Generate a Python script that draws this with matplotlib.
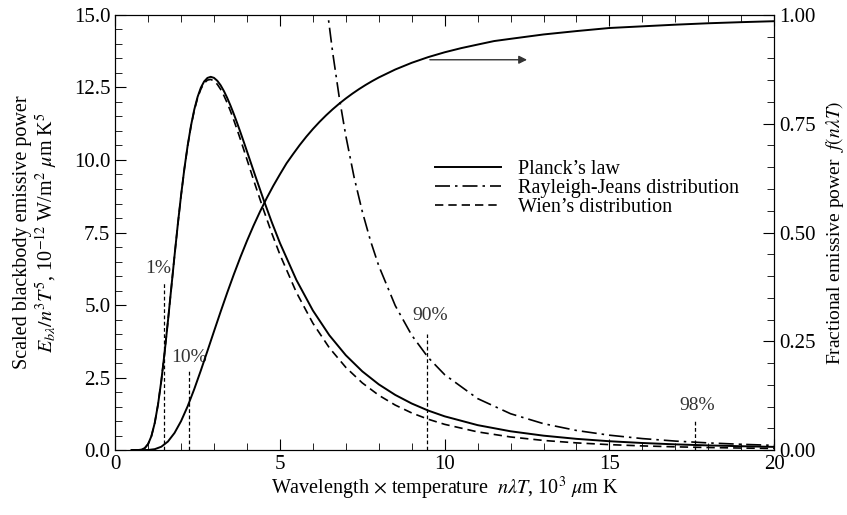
import numpy as np
import matplotlib
matplotlib.use('Agg')
import matplotlib.pyplot as plt
from matplotlib.ticker import MultipleLocator

plt.rcParams['font.family'] = ['Liberation Serif', 'DejaVu Serif']
plt.rcParams['mathtext.fontset'] = 'stix'

# wavelength x temperature, 10^3 um K
x_dist = [0.5, 0.6, 0.7, 0.8, 0.9, 1.0, 1.1, 1.2, 1.3, 1.4, 1.5, 1.6, 1.7, 1.8,
          1.9, 2.0, 2.1, 2.2, 2.3, 2.4, 2.5, 2.6, 2.7, 2.8, 2.9, 3.0, 3.1, 3.2,
          3.3, 3.4, 3.5, 3.6, 3.7, 3.8, 3.9, 4.0, 4.25, 4.5, 4.75, 5.0, 5.5, 6.0,
          6.5, 7.0, 7.5, 8.0, 8.5, 9.0, 9.5, 10, 11, 12, 13, 14, 15, 16, 17, 18,
          19, 20]
planck = [0.0, 0.0002, 0.0026, 0.0177, 0.0722, 0.211, 0.485, 0.933, 1.573, 2.395,
          3.365, 4.438, 5.563, 6.690, 7.777, 8.790, 9.704, 10.503, 11.181, 11.737,
          12.171, 12.493, 12.708, 12.829, 12.867, 12.830, 12.730, 12.576, 12.376,
          12.140, 11.874, 11.585, 11.279, 10.959, 10.631, 10.297, 9.459, 8.642,
          7.864, 7.139, 5.863, 4.812, 3.958, 3.269, 2.714, 2.266, 1.902, 1.606,
          1.363, 1.164, 0.861, 0.649, 0.498, 0.388, 0.306, 0.245, 0.198, 0.162,
          0.134, 0.111]
wien = [0.0, 0.0002, 0.0026, 0.0177, 0.0722, 0.211, 0.485, 0.933, 1.573, 2.395,
        3.364, 4.437, 5.561, 6.688, 7.773, 8.783, 9.694, 10.488, 11.160, 11.708,
        12.133, 12.444, 12.646, 12.754, 12.777, 12.724, 12.607, 12.435, 12.218,
        11.964, 11.680, 11.372, 11.048, 10.711, 10.365, 10.015, 9.139, 8.289,
        7.483, 6.738, 5.435, 4.374, 3.525, 2.851, 2.316, 1.891, 1.552, 1.281,
        1.064, 0.888, 0.628, 0.453, 0.333, 0.249, 0.189, 0.145, 0.113, 0.089,
        0.071, 0.057]

x_rj = [6.4, 6.6, 6.8, 7.0, 7.25, 7.5, 7.75, 8.0, 8.5, 9.0, 9.5, 10, 11, 12,
        13, 14, 15, 16, 17, 18, 19, 20]
rayleigh_jeans = [15.50, 13.71, 12.16, 10.83, 9.41, 8.22, 7.21, 6.35, 4.98, 3.96,
                  3.19, 2.60, 1.776, 1.254, 0.911, 0.677, 0.514, 0.397, 0.311,
                  0.248, 0.200, 0.163]

# fractional emissive power
x_frac = [0.5, 0.6, 0.8, 1.0, 1.2, 1.4, 1.6, 1.8, 2.0, 2.2, 2.4, 2.6, 2.8, 3.0,
          3.2, 3.4, 3.6, 3.8, 4.0, 4.2, 4.4, 4.6, 4.8, 5.0, 5.2, 5.4, 5.6, 5.8,
          6.0, 6.2, 6.4, 6.6, 6.8, 7.0, 7.2, 7.4, 7.6, 7.8, 8.0, 8.5, 9.0, 9.5,
          10, 10.5, 11, 11.5, 12, 13, 14, 15, 16, 17, 18, 19, 20]
frac = [0.0, 0.0, 0.000016, 0.000321, 0.002134, 0.00779, 0.019718, 0.039341,
        0.066728, 0.100888, 0.140256, 0.18312, 0.227897, 0.273232, 0.318102,
        0.361735, 0.403607, 0.443382, 0.480877, 0.516014, 0.548796, 0.57928,
        0.607559, 0.633747, 0.65897, 0.68036, 0.701046, 0.720158, 0.737818,
        0.75414, 0.769234, 0.783199, 0.796129, 0.808109, 0.819217, 0.829527,
        0.839102, 0.848005, 0.856288, 0.874608, 0.890029, 0.903085, 0.914199,
        0.92371, 0.93189, 0.939959, 0.945098, 0.955139, 0.962898, 0.969981,
        0.973814, 0.9776, 0.98086, 0.9834, 0.985602]

# percentage markers
pct_labels = ['1%', '10%', '90%', '98%']
pct_x = [1.48, 2.24, 9.47, 17.6]
pct_top = [5.75, 2.75, 4.0, 1.0]
pct_text_xy = [(1.3, 6.25), (2.25, 3.2), (9.55, 4.65), (17.65, 1.55)]

fig = plt.figure(figsize=(8.47, 5.15), dpi=100)
ax = fig.add_axes([0.136, 0.126, 0.778, 0.845])

ax.plot(x_dist, planck, color='black', lw=1.4, label="Planck’s law")
ax.plot(x_rj, rayleigh_jeans, color='black', lw=1.2, linestyle=(0, (9, 3, 1.5, 3)),
        label='Rayleigh-Jeans distribution')
ax.plot(x_dist, wien, color='black', lw=1.2, linestyle=(0, (5, 3)),
        label='Wien’s distribution')

for xv, top, lab, (tx, ty) in zip(pct_x, pct_top, pct_labels, pct_text_xy):
    ax.plot([xv, xv], [0, top], color='black', lw=0.9, linestyle=(0, (3, 2)))
    ax.text(tx, ty, lab, ha='center', va='center', fontsize=14, color='#333333')

ax.set_xlim(0, 20)
ax.set_ylim(0, 15)
ax.xaxis.set_major_locator(MultipleLocator(5))
ax.xaxis.set_minor_locator(MultipleLocator(1))
ax.yaxis.set_major_locator(MultipleLocator(2.5))
ax.yaxis.set_minor_locator(MultipleLocator(0.5))
ax.yaxis.set_major_formatter(plt.FormatStrFormatter('%.1f'))
ax.tick_params(which='both', direction='in', top=True, labelsize=15)
ax.tick_params(which='major', length=8)
ax.tick_params(which='minor', length=5)

ax.set_xlabel(r'Wavelength $\times$ temperature  $n\lambda T$, 10$^3$ $\mu$m K', fontsize=14.5,
              labelpad=1)
ax.set_ylabel('Scaled blackbody emissive power\n'
              r'$E_{b\lambda}/n^3T^5$, 10$^{-12}$ W/m$^2$ $\mu$m K$^5$', fontsize=14.5,
              labelpad=10, linespacing=1.1)

ax.legend(loc='upper left', bbox_to_anchor=(0.47, 0.69), frameon=False, fontsize=14.5,
          handlelength=3.3, handletextpad=0.8, labelspacing=0.0, borderpad=0)

ax2 = ax.twinx()
ax2.plot(x_frac, frac, color='black', lw=1.4)
ax2.set_ylim(0, 1)
ax2.yaxis.set_major_locator(MultipleLocator(0.25))
ax2.yaxis.set_minor_locator(MultipleLocator(0.05))
ax2.yaxis.set_major_formatter(plt.FormatStrFormatter('%.2f'))
ax2.tick_params(which='both', direction='in', labelsize=15)
ax2.tick_params(which='major', length=8)
ax2.tick_params(which='minor', length=5)
ax2.set_ylabel(r'Fractional emissive power  $f(n\lambda T)$', fontsize=14, labelpad=6)
ax2.annotate('', xy=(12.5, 0.897), xytext=(9.55, 0.897),
             arrowprops=dict(arrowstyle='-|>', color='#333333', lw=1.0,
                             mutation_scale=12, shrinkA=0, shrinkB=0))

fig.savefig('out.png', dpi=100)
